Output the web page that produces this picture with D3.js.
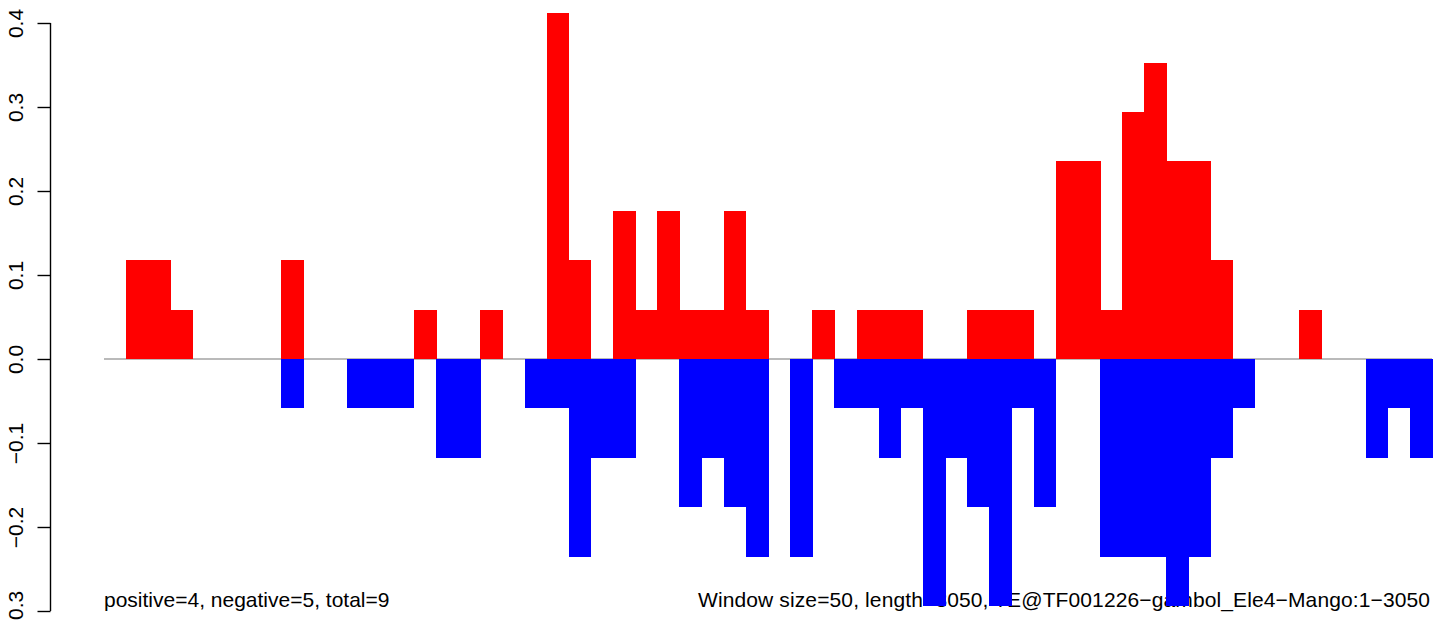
<!DOCTYPE html>
<html>
<head>
<meta charset="utf-8">
<script src="https://cdn.jsdelivr.net/npm/d3@7"></script>
<style>
  html, body { margin: 0; padding: 0; background: #fff; }
  svg { display: block; }
  text { font-family: "Liberation Sans", Arial, Helvetica, sans-serif; }
</style>
</head>
<body>
<svg id="chart" width="1444" height="620"></svg>
<script>
// window start positions (bp), window size 50
const windowStarts = d3.range(0, 3000, 50);

// positive (red) values per window
const positiveValues = [
  0, 0.1176, 0.1176, 0.0588, 0, 0, 0, 0, 0.1176, 0,
  0, 0, 0, 0, 0.0588, 0, 0, 0.0588, 0, 0,
  0.4118, 0.1176, 0, 0.1765, 0.0588, 0.1765, 0.0588, 0.0588, 0.1765, 0.0588,
  0, 0, 0.0588, 0, 0.0588, 0.0588, 0.0588, 0, 0, 0.0588,
  0.0588, 0.0588, 0, 0.2353, 0.2353, 0.0588, 0.2941, 0.3529, 0.2353, 0.2353,
  0.1176, 0, 0, 0, 0.0588, 0, 0, 0, 0, 0
];

// negative (blue) values per window
const negativeValues = [
  0, 0, 0, 0, 0, 0, 0, 0, -0.0588, 0,
  0, -0.0588, -0.0588, -0.0588, 0, -0.1176, -0.1176, 0, 0, -0.0588,
  -0.0588, -0.2353, -0.1176, -0.1176, 0, 0, -0.1765, -0.1176, -0.1765, -0.2353,
  0, -0.2353, 0, -0.0588, -0.0588, -0.1176, -0.0588, -0.2941, -0.1176, -0.1765,
  -0.2941, -0.0588, -0.1765, 0, 0, -0.2353, -0.2353, -0.2353, -0.2941, -0.2353,
  -0.1176, -0.0588, 0, 0, 0, 0, 0, -0.1176, -0.0588, -0.1176
];

const yTicks = [-0.3, -0.2, -0.1, 0.0, 0.1, 0.2, 0.3, 0.4];
const windowSize = 50;
const leftNote = "positive=4, negative=5, total=9";
const rightNote = "Window size=50, length=3050, TE@TF001226\u2212gambol_Ele4\u2212Mango:1\u22123050";

const svg = d3.select("#chart");

const x = d3.scaleLinear().domain([0, 3000]).range([104, 1432]);
const y = d3.scaleLinear().domain([-0.3, 0.4]).range([611, 23]);

// bottom notes (drawn beneath the bars, as in the reference)
svg.append("text")
  .attr("x", 104).attr("y", 607)
  .style("font-size", "21px")
  .attr("fill", "#000")
  .text(leftNote);

svg.append("text")
  .attr("x", 1430).attr("y", 607)
  .attr("text-anchor", "end")
  .attr("textLength", 732)
  .attr("lengthAdjust", "spacing")
  .style("font-size", "21px")
  .attr("fill", "#000")
  .text(rightNote);

// baseline
svg.append("line")
  .attr("x1", x(0)).attr("x2", x(3000))
  .attr("y1", y(0)).attr("y2", y(0))
  .attr("stroke", "#777").attr("stroke-width", 1.2);

const posData = windowStarts.map((s, i) => ({ s, v: positiveValues[i] })).filter(d => d.v > 0);
const negData = windowStarts.map((s, i) => ({ s, v: negativeValues[i] })).filter(d => d.v < 0);

svg.append("g").attr("shape-rendering", "crispEdges")
  .selectAll("rect").data(posData).join("rect")
  .attr("x", d => x(d.s))
  .attr("width", d => x(d.s + windowSize) - x(d.s) + 0.5)
  .attr("y", d => y(d.v))
  .attr("height", d => y(0) - y(d.v))
  .attr("fill", "#ff0000");

svg.append("g").attr("shape-rendering", "crispEdges")
  .selectAll("rect").data(negData).join("rect")
  .attr("x", d => x(d.s))
  .attr("width", d => x(d.s + windowSize) - x(d.s) + 0.5)
  .attr("y", y(0))
  .attr("height", d => y(d.v) - y(0))
  .attr("fill", "#0000ff");

// y axis
const axis = d3.axisLeft(y)
  .tickValues(yTicks)
  .tickSize(13)
  .tickPadding(0)
  .tickFormat(d => d3.format(".1f")(d).replace("-", "\u2212"));

const gAxis = svg.append("g").attr("transform", "translate(50.5,0)").call(axis);
gAxis.select(".domain")
  .attr("d", `M0,${y(0.4)}V${y(-0.3)}`)
  .attr("stroke", "#000").attr("stroke-width", 1.4);
gAxis.selectAll(".tick line").attr("stroke", "#000").attr("stroke-width", 1.4);
gAxis.selectAll(".tick text")
  .attr("x", 0).attr("y", 0).attr("dy", null)
  .attr("transform", "translate(-27.5,0) rotate(-90)")
  .attr("text-anchor", "middle")
  .attr("fill", "#000")
  .style("font-size", "21px");
</script>
</body>
</html>
